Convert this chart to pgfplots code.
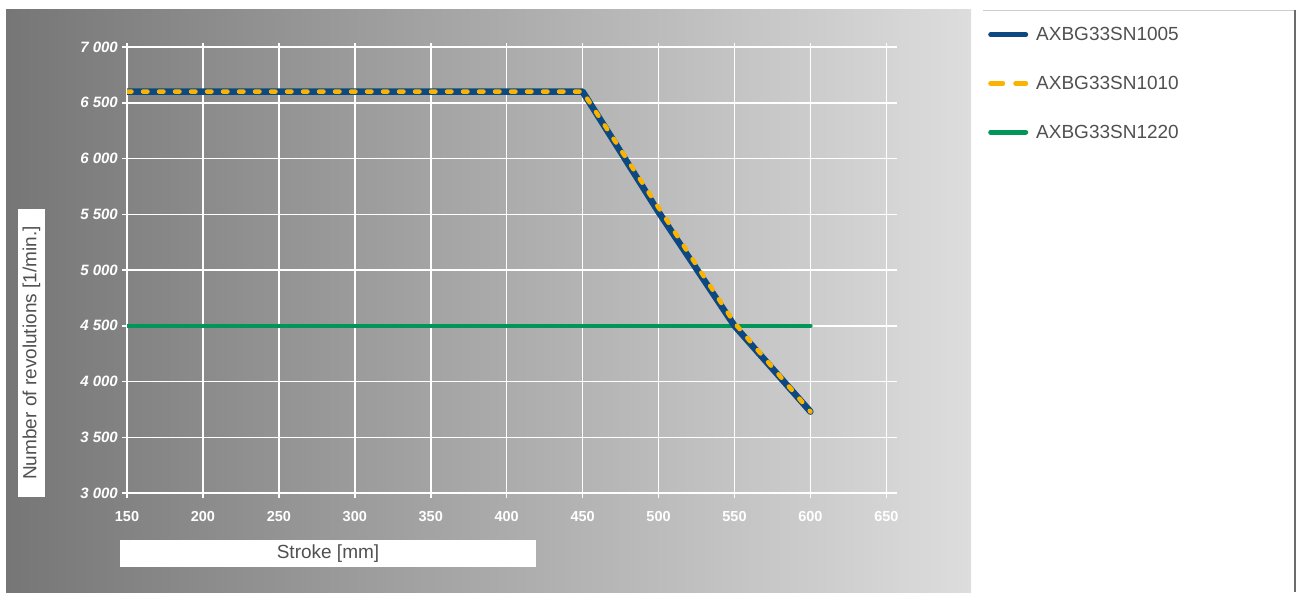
\documentclass[border=0pt]{standalone}
\usepackage{pgfplots}
\pgfplotsset{compat=1.18}
\usepackage{fontspec}
\setmainfont{Liberation Sans}
\definecolor{bgL}{RGB}{118,118,118}
\definecolor{bgR}{RGB}{221,221,221}
\definecolor{txt}{RGB}{80,80,80}
\definecolor{blueC}{RGB}{14,72,128}
\definecolor{orangeC}{RGB}{250,180,0}
\definecolor{greenC}{RGB}{0,150,90}
\begin{document}
\begin{tikzpicture}[x=1pt,y=1pt]
\useasboundingbox (0,0) rectangle (1296,-592);
\shade[left color=bgL, right color=bgR] (6,-9) rectangle (971,-592);
\draw[gray!40, line width=1pt] (983,-10) -- (1295,-10);
\draw[gray!85!black, line width=1.2pt] (1295,-10) -- (1295,-592);
\node[fill=white, minimum width=416pt, minimum height=27pt, inner sep=0pt, text=txt, font=\fontsize{19}{19}\selectfont] at (328,-553.5) {Stroke [mm]};
\node[fill=white, minimum width=288pt, minimum height=27pt, inner sep=0pt, rotate=90, text=txt, font=\fontsize{19}{19}\selectfont] at (31.5,-353) {Number of revolutions [1/min.]};
\begin{axis}[
  at={(127pt,-493pt)}, anchor=south west,
  scale only axis, width=770pt, height=450pt,
  xmin=150, xmax=657, ymin=3000, ymax=7036,
  axis x line*=bottom, axis y line*=left,
  axis line style={white, line width=2.5pt},
  grid=major, major grid style={white, line width=1.5pt},
  xtick={150,200,...,650}, ytick={3000,3500,...,7000},
  xticklabels={150,200,250,300,350,400,450,500,550,600,650},
  yticklabels={3 000,3 500,4 000,4 500,5 000,5 500,6 000,6 500,7 000},
  tick align=outside, major tick length=5pt,
  tick style={white, line width=1.5pt},
  yticklabel style={font=\fontsize{15}{15}\selectfont\bfseries\itshape, text=white, inner sep=0pt, xshift=-4pt},
  xticklabel style={font=\fontsize{14.5}{14.5}\selectfont\bfseries, text=white, inner sep=0pt, yshift=-13pt},
  legend style={at={(axis description cs:1.1143,1.040)}, anchor=north west, draw=none, fill=none,
    font=\fontsize{19}{19}\selectfont, text=txt, row sep=34pt, column sep=8pt,
    nodes={inner sep=0pt}},
  legend cell align=left,
]
\addplot[greenC, line width=4.5pt, line cap=round, forget plot] coordinates {(150,4500) (600,4500)};
\addplot[blueC, line width=6.5pt, line join=round, line cap=round,
  legend image code/.code={\draw[blueC, line width=5pt, line cap=round] (2.5pt,0pt) -- (37.5pt,0pt);}]
  coordinates {(150,6600) (450,6600) (500,5520) (550,4500) (600,3730)};
\addlegendentry{AXBG33SN1005}
\addplot[orangeC, line width=4.5pt, line join=round, line cap=round, dash pattern=on 4.5pt off 11.5pt,
  legend image code/.code={\draw[orangeC, line width=5pt, line cap=round, dash pattern=on 12pt off 13pt] (2.5pt,0pt) -- (37.5pt,0pt);}]
  coordinates {(150,6600) (450,6600) (500,5560) (550,4525) (600,3730)};
\addlegendentry{AXBG33SN1010}
\addlegendimage{greenC, line width=5pt, line cap=round, legend image code/.code={\draw[greenC, line width=5pt, line cap=round] (2.5pt,0pt) -- (37.5pt,0pt);}}
\addlegendentry{AXBG33SN1220}
\end{axis}
\end{tikzpicture}
\end{document}
